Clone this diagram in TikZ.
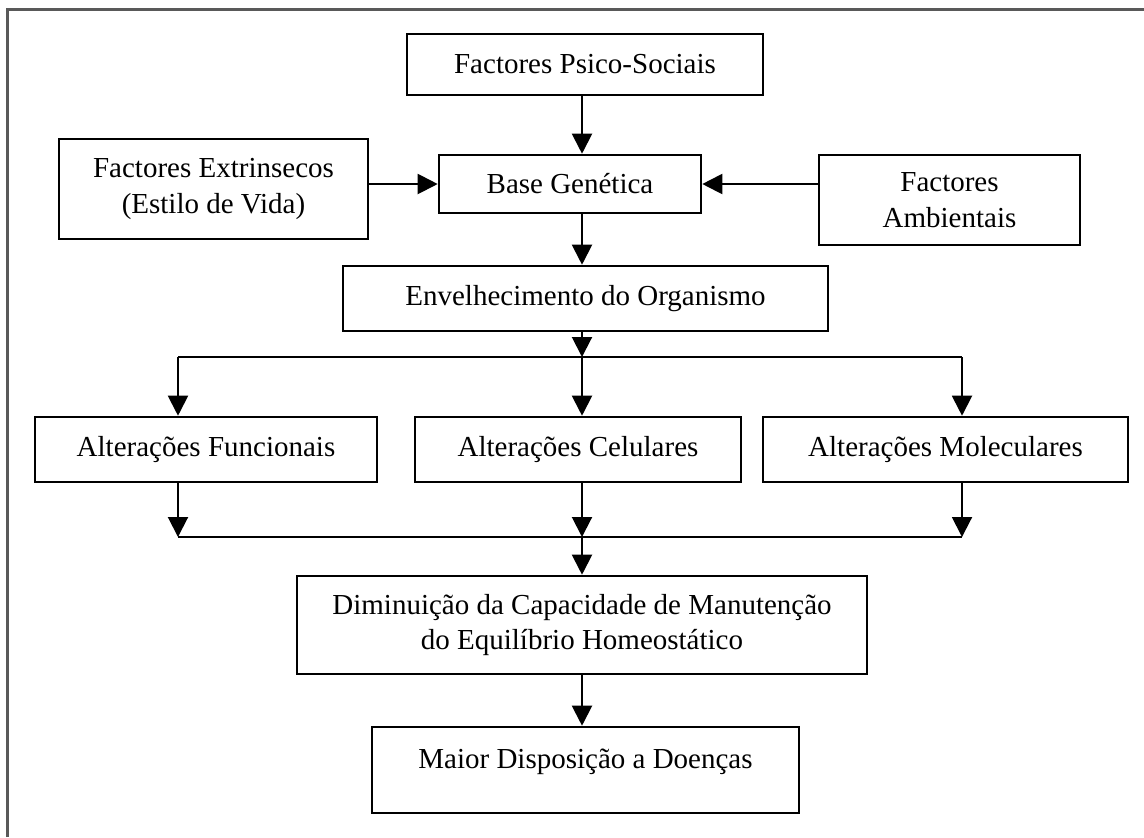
\documentclass[tikz,border=0pt]{standalone}
\usepackage{fontspec}
\setmainfont{Liberation Serif}
\usetikzlibrary{arrows.meta}
\begin{document}
\begin{tikzpicture}[x=0.5pt,y=-0.5pt,
  box/.style={draw=black, line width=1.3pt, fill=white, align=center,
    font=\fontsize{14.5}{17.8}\selectfont, inner sep=2pt},
  conn/.style={draw=black, line width=1pt},
  arr/.style={conn, -{Triangle[length=10pt,width=10pt]}},
  frame/.style={draw=black!65, line width=1.5pt}]
\useasboundingbox (0,0) rectangle (1144,837);
\draw[frame] (7,837) -- (7,9) -- (1144,9);

\node[box, minimum width=178pt, minimum height=30.5pt] (psico) at (585,64.5) {Factores Psico-Sociais};
\node[box, minimum width=131pt, minimum height=29pt] (base) at (570,184) {Base Genética};
\node[box, minimum width=154.5pt, minimum height=50pt] (extr) at (213.5,189) {Factores Extrinsecos\\(Estilo de Vida)};
\node[box, minimum width=130.5pt, minimum height=45pt] (amb) at (949.5,200) {Factores\\Ambientais};
\node[box, minimum width=242.5pt, minimum height=32.5pt] (env) at (585.5,298.5) {Envelhecimento do Organismo};
\node[box, minimum width=171pt, minimum height=32.5pt] (func) at (206,449.5) {Alterações Funcionais};
\node[box, minimum width=163pt, minimum height=32.5pt] (cel) at (578,449.5) {Alterações Celulares};
\node[box, minimum width=182.5pt, minimum height=32.5pt] (mol) at (945.5,449.5) {Alterações Moleculares};
\node[box, minimum width=285pt, minimum height=49pt] (dim) at (582,625) {Diminuição da Capacidade de Manutenção\\do Equilíbrio Homeostático};
\node[box, minimum width=213.5pt, minimum height=43pt, text height=10pt, text depth=11.4pt] (maior) at (585.5,770) {Maior Disposição a Doenças};

\coordinate (xl) at (178,0);
\coordinate (xm) at (582,0);
\coordinate (xr) at (962,0);
\coordinate (split) at (582,357);
\coordinate (join) at (582,537);

\draw[arr] (xm |- psico.south) -- (xm |- base.north);
\draw[arr] (extr.east |- base.west) -- (base.west);
\draw[arr] (amb.west |- base.east) -- (base.east);
\draw[arr] (xm |- base.south) -- (xm |- env.north);
\draw[arr] (xm |- env.south) -- (split);
\draw[conn] (xl |- split) -- (xr |- split);
\draw[arr] (xl |- split) -- (xl |- func.north);
\draw[arr] (split) -- (xm |- cel.north);
\draw[arr] (xr |- split) -- (xr |- mol.north);
\draw[arr] (xl |- func.south) -- (xl |- join);
\draw[arr] (xm |- cel.south) -- (join);
\draw[arr] (xr |- mol.south) -- (xr |- join);
\draw[conn] (xl |- join) -- (xr |- join);
\draw[arr] (join) -- (xm |- dim.north);
\draw[arr] (xm |- dim.south) -- (xm |- maior.north);
\end{tikzpicture}
\end{document}
